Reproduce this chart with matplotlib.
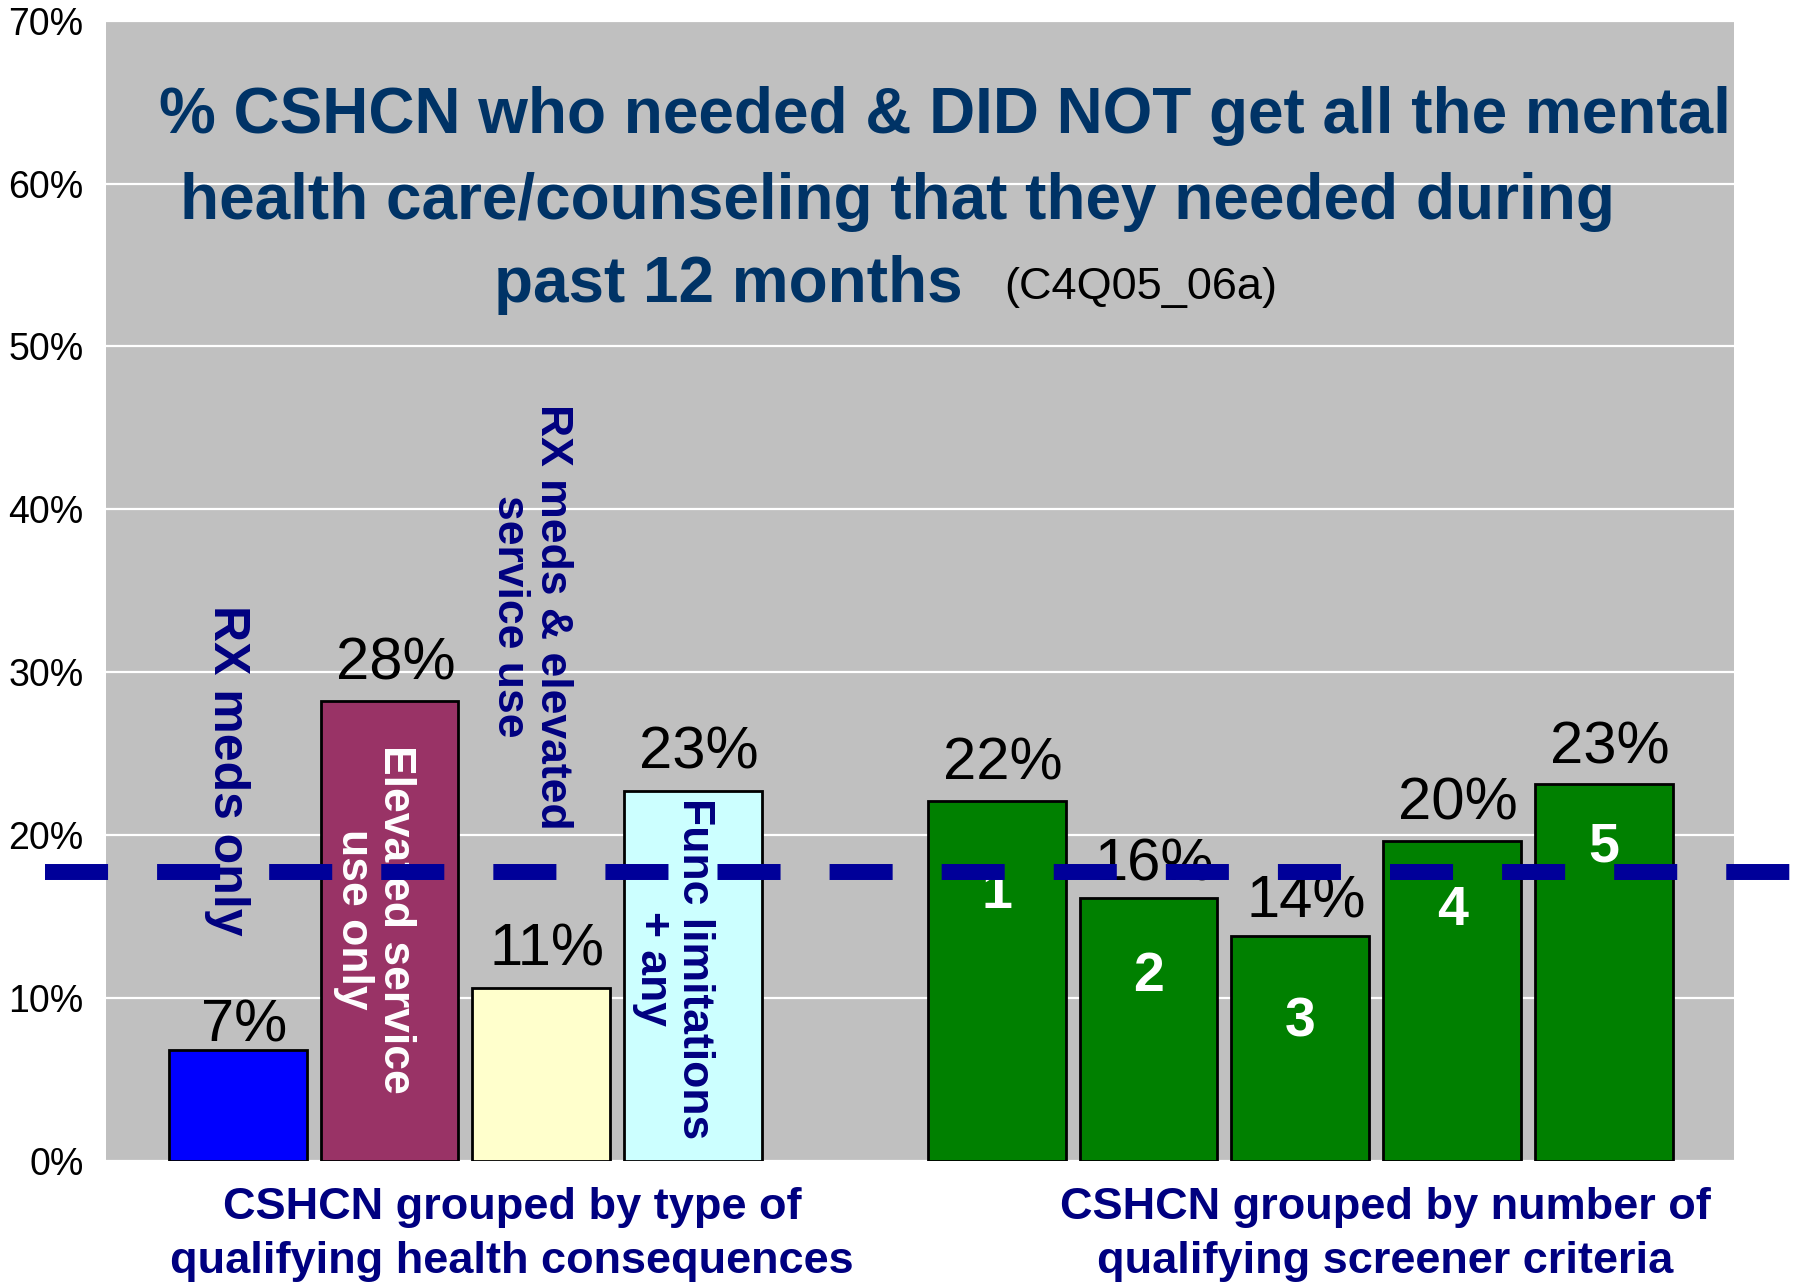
import matplotlib
matplotlib.use('Agg')
import matplotlib.pyplot as plt
from matplotlib.ticker import FuncFormatter

plt.rcParams['font.family'] = ['Liberation Sans', 'DejaVu Sans']
plt.rcParams['lines.scale_dashes'] = False

# bars: 4 health-consequence groups, gap, then 5 screener-criteria counts
x_pos = [0, 1, 2, 3, 5, 6, 7, 8, 9]
values = [6.8, 28.2, 10.6, 22.7, 22.1, 16.1, 13.8, 19.6, 23.1]
value_labels = ['7%', '28%', '11%', '23%', '22%', '16%', '14%', '20%', '23%']
bar_colors = ['#0000FF', '#993366', '#FFFFCC', '#CCFFFF',
              '#008000', '#008000', '#008000', '#008000', '#008000']
overall = 17.7  # all CSHCN

type_names = ['RX meds only', 'Elevated service\nuse only',
              'RX meds & elevated\nservice use', 'Func limitations\n+ any']
count_names = ['1', '2', '3', '4', '5']
group_titles = ['CSHCN grouped by type of\nqualifying health consequences',
                'CSHCN grouped by number of\nqualifying screener criteria']

navy = '#000080'

fig = plt.figure(figsize=(18, 12.87), dpi=100)
ax = fig.add_axes([0.0587, 0.0982, 0.9044, 0.8857])
ax.set_facecolor('#C0C0C0')

ax.bar(x_pos, values, width=0.908, color=bar_colors, edgecolor='black', linewidth=2, zorder=2)

# value labels above bars
pads = [6, 16, 16, 16, 15, 13, 13, 16, 15]
for x, v, t, p in zip(x_pos, values, value_labels, pads):
    ax.annotate(t, (x + 0.04, v), xytext=(0, p), textcoords='offset points',
                ha='center', va='baseline', fontsize=43, color='black', zorder=4)

# rotated names of the health-consequence groups
name_xy = [(-0.07, 23.95), (0.9, 14.8), (1.93, 33.4), (2.87, 11.8)]
name_colors = [navy, 'white', navy, navy]
name_sizes = [36, 32, 32, 32]
for name, (x, y), c, s in zip(type_names, name_xy, name_colors, name_sizes):
    ax.text(x, y, name, rotation=-90, ha='center', va='center', multialignment='center',
            fontsize=s, fontweight='bold', color=c, linespacing=1.05, zorder=4)

# number of criteria printed inside the green bars
num_y = [16.4, 11.3, 8.5, 15.3, 19.25]
for x, name, y in zip(x_pos[4:], count_names, num_y):
    ax.text(x, y, name, ha='center', va='center', fontsize=40,
            fontweight='bold', color='white', zorder=4)

# dashed reference line across the whole chart
ax.plot([-0.0372, 1.0365], [overall, overall], transform=ax.get_yaxis_transform(),
        color='#000099', lw=11.5, linestyle=(0, (45.4, 35.3)), solid_capstyle='butt',
        dash_capstyle='butt', clip_on=False, zorder=10)

ax.set_xlim(-0.87, 9.854)
ax.set_ylim(0, 70)
ax.set_yticks(range(0, 71, 10))
ax.yaxis.set_major_formatter(FuncFormatter(lambda v, p: '%d%%' % v))
ax.tick_params(axis='y', length=0, pad=16, labelsize=27)
ax.set_xticks([])
ax.yaxis.grid(True, color='white', lw=1.6)
ax.set_axisbelow(True)
for sp in ax.spines.values():
    sp.set_visible(False)

# title block
title_color = '#003366'
fig.text(0.525, 0.8967, '% CSHCN who needed & DID NOT get all the mental',
         ha='center', va='baseline', fontsize=46, fontweight='bold', color=title_color)
fig.text(0.4983, 0.8298, 'health care/counseling that they needed during',
         ha='center', va='baseline', fontsize=46, fontweight='bold', color=title_color)
fig.text(0.2742, 0.7653, 'past 12 months',
         ha='left', va='baseline', fontsize=46, fontweight='bold', color=title_color)
fig.text(0.558, 0.7675, '(C4Q05_06a)',
         ha='left', va='baseline', fontsize=32.5, color='black')

# group captions under the axis
fig.text(0.2845, 0.041, group_titles[0], ha='center', va='center',
         fontsize=32.5, fontweight='bold', color=navy, linespacing=1.4)
fig.text(0.7695, 0.041, group_titles[1], ha='center', va='center',
         fontsize=32.5, fontweight='bold', color=navy, linespacing=1.4)

plt.savefig('out.png', dpi=100)
